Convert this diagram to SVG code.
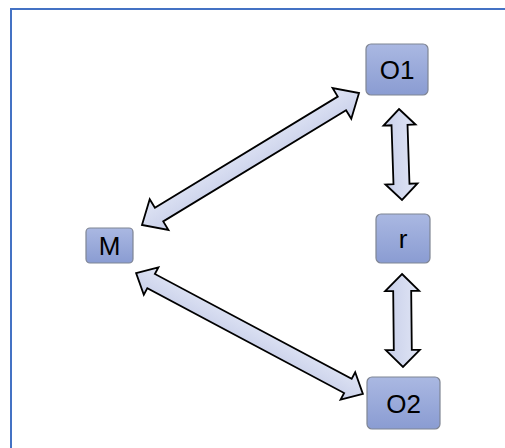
<svg xmlns="http://www.w3.org/2000/svg" width="505" height="448" viewBox="0 0 505 448">
<defs>
<linearGradient id="ng" x1="0" y1="0" x2="0" y2="1">
<stop offset="0" stop-color="#aab8e2"/>
<stop offset="1" stop-color="#8a9cd2"/>
</linearGradient>
<linearGradient id="ag" x1="0" y1="0" x2="0" y2="1">
<stop offset="0" stop-color="#e0e5f5"/>
<stop offset="1" stop-color="#c8cfe9"/>
</linearGradient>
<style>
.node rect{fill:url(#ng);stroke:#7f8593;stroke-width:1.2}
.node text{font-family:"Liberation Sans",Arial,sans-serif;font-size:26px;fill:#000;text-anchor:middle;dominant-baseline:central}
.arr{fill:url(#ag);stroke:#000;stroke-width:1.8;stroke-linejoin:miter}
</style>
</defs>
<rect x="0" y="0" width="505" height="448" fill="#fff"/>
<path d="M11 448 V9 H505" fill="none" stroke="#4472c4" stroke-width="2"/>
<g id="connectors">
<polygon class="arr" transform="translate(250.5,159) rotate(-31.3)" points="-127,0 -107,-18 -107,-8 107,-8 107,-18 127,0 107,18 107,8 -107,8 -107,18"/>
<polygon class="arr" transform="translate(249.5,333.5) rotate(28.06)" points="-128.5,0 -111.5,-15.5 -111.5,-8 111.5,-8 111.5,-15.5 128.5,0 111.5,15.5 111.5,8 -111.5,8 -111.5,15.5"/>
<polygon class="arr" transform="translate(400.5,154.5) rotate(88.1)" points="-45.5,0 -29.5,-16 -29.5,-8 29.5,-8 29.5,-16 45.5,0 29.5,16 29.5,8 -29.5,8 -29.5,16"/>
<polygon class="arr" transform="translate(402.5,320.5) rotate(89.4)" points="-46.5,0 -29.5,-17 -29.5,-9 29.5,-9 29.5,-17 46.5,0 29.5,17 29.5,9 -29.5,9 -29.5,17"/>
</g>
<g id="O1" class="node"><rect x="366" y="44" width="62" height="51" rx="5"/><text x="397" y="70">O1</text></g>
<g id="M" class="node"><rect x="86" y="228" width="47" height="35" rx="4"/><text x="109.5" y="246">M</text></g>
<g id="r" class="node"><rect x="376" y="214" width="54" height="49" rx="5"/><text x="403" y="239">r</text></g>
<g id="O2" class="node"><rect x="367" y="377" width="73" height="52" rx="5"/><text x="403.5" y="404">O2</text></g>
</svg>
